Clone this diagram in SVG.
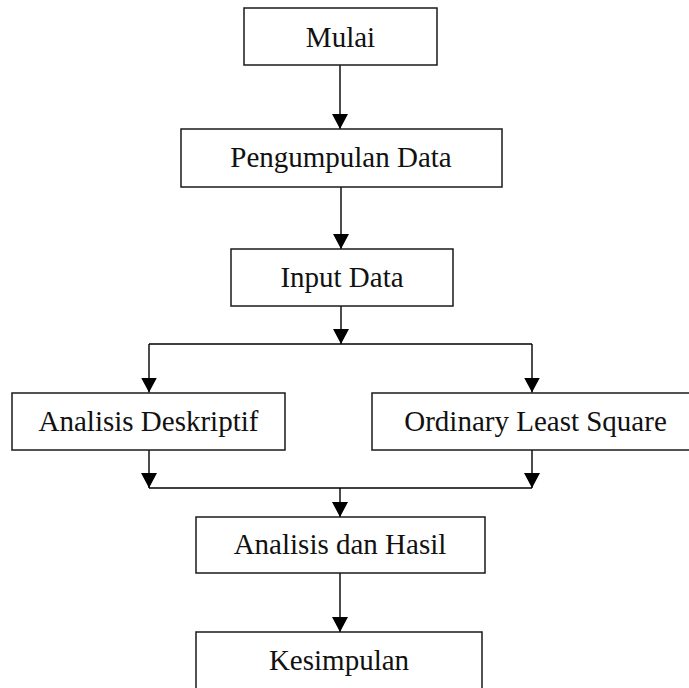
<svg xmlns="http://www.w3.org/2000/svg" width="689" height="688" viewBox="0 0 689 688">
<defs>
<marker id="arr" markerUnits="userSpaceOnUse" viewBox="0 0 15 16" refX="15" refY="8" markerWidth="15" markerHeight="16" orient="auto">
<path d="M0,0 L15,8 L0,16 Z" fill="#000"/>
</marker>
<style>
.box{fill:#fff;stroke:#1a1a1a;stroke-width:1.5}
.lbl{font-family:"Liberation Serif","Times New Roman",serif;font-size:29px;fill:#111;text-anchor:middle}
.ln{fill:none;stroke:#000;stroke-width:1.4}
.ar{fill:none;stroke:#000;stroke-width:1.4;marker-end:url(#arr)}
</style>
</defs>
<rect width="689" height="688" fill="#fff"/>
<g id="connectors">
<line class="ar" x1="340" y1="65" x2="340" y2="129"/>
<line class="ar" x1="341" y1="187" x2="341" y2="249"/>
<line class="ar" x1="341" y1="306" x2="341" y2="344"/>
<line class="ln" x1="149" y1="344" x2="532" y2="344"/>
<line class="ar" x1="149" y1="344" x2="149" y2="392.5"/>
<line class="ar" x1="532" y1="344" x2="532" y2="392.5"/>
<line class="ar" x1="149" y1="450" x2="149" y2="488"/>
<line class="ar" x1="532" y1="450" x2="532" y2="488"/>
<line class="ln" x1="149" y1="488" x2="532" y2="488"/>
<line class="ar" x1="340" y1="488" x2="340" y2="517"/>
<line class="ar" x1="340" y1="573" x2="340" y2="632"/>
</g>
<g id="mulai">
<rect class="box" x="244" y="8" width="193" height="57"/>
<text class="lbl" x="340.5" y="46.5">Mulai</text>
</g>
<g id="pengumpulan">
<rect class="box" x="181" y="129" width="321" height="58"/>
<text class="lbl" x="341" y="167">Pengumpulan Data</text>
</g>
<g id="input">
<rect class="box" x="231" y="249" width="222" height="57"/>
<text class="lbl" x="342" y="287">Input Data</text>
</g>
<g id="deskriptif">
<rect class="box" x="12" y="393" width="273" height="57"/>
<text class="lbl" x="148.5" y="431">Analisis Deskriptif</text>
</g>
<g id="ols">
<rect class="box" x="372" y="393" width="330" height="57"/>
<text class="lbl" x="535.5" y="431">Ordinary Least Square</text>
</g>
<g id="hasil">
<rect class="box" x="196" y="517" width="289" height="56"/>
<text class="lbl" x="340" y="554">Analisis dan Hasil</text>
</g>
<g id="kesimpulan">
<rect class="box" x="196" y="632" width="286" height="70"/>
<text class="lbl" x="339" y="670">Kesimpulan</text>
</g>
</svg>
